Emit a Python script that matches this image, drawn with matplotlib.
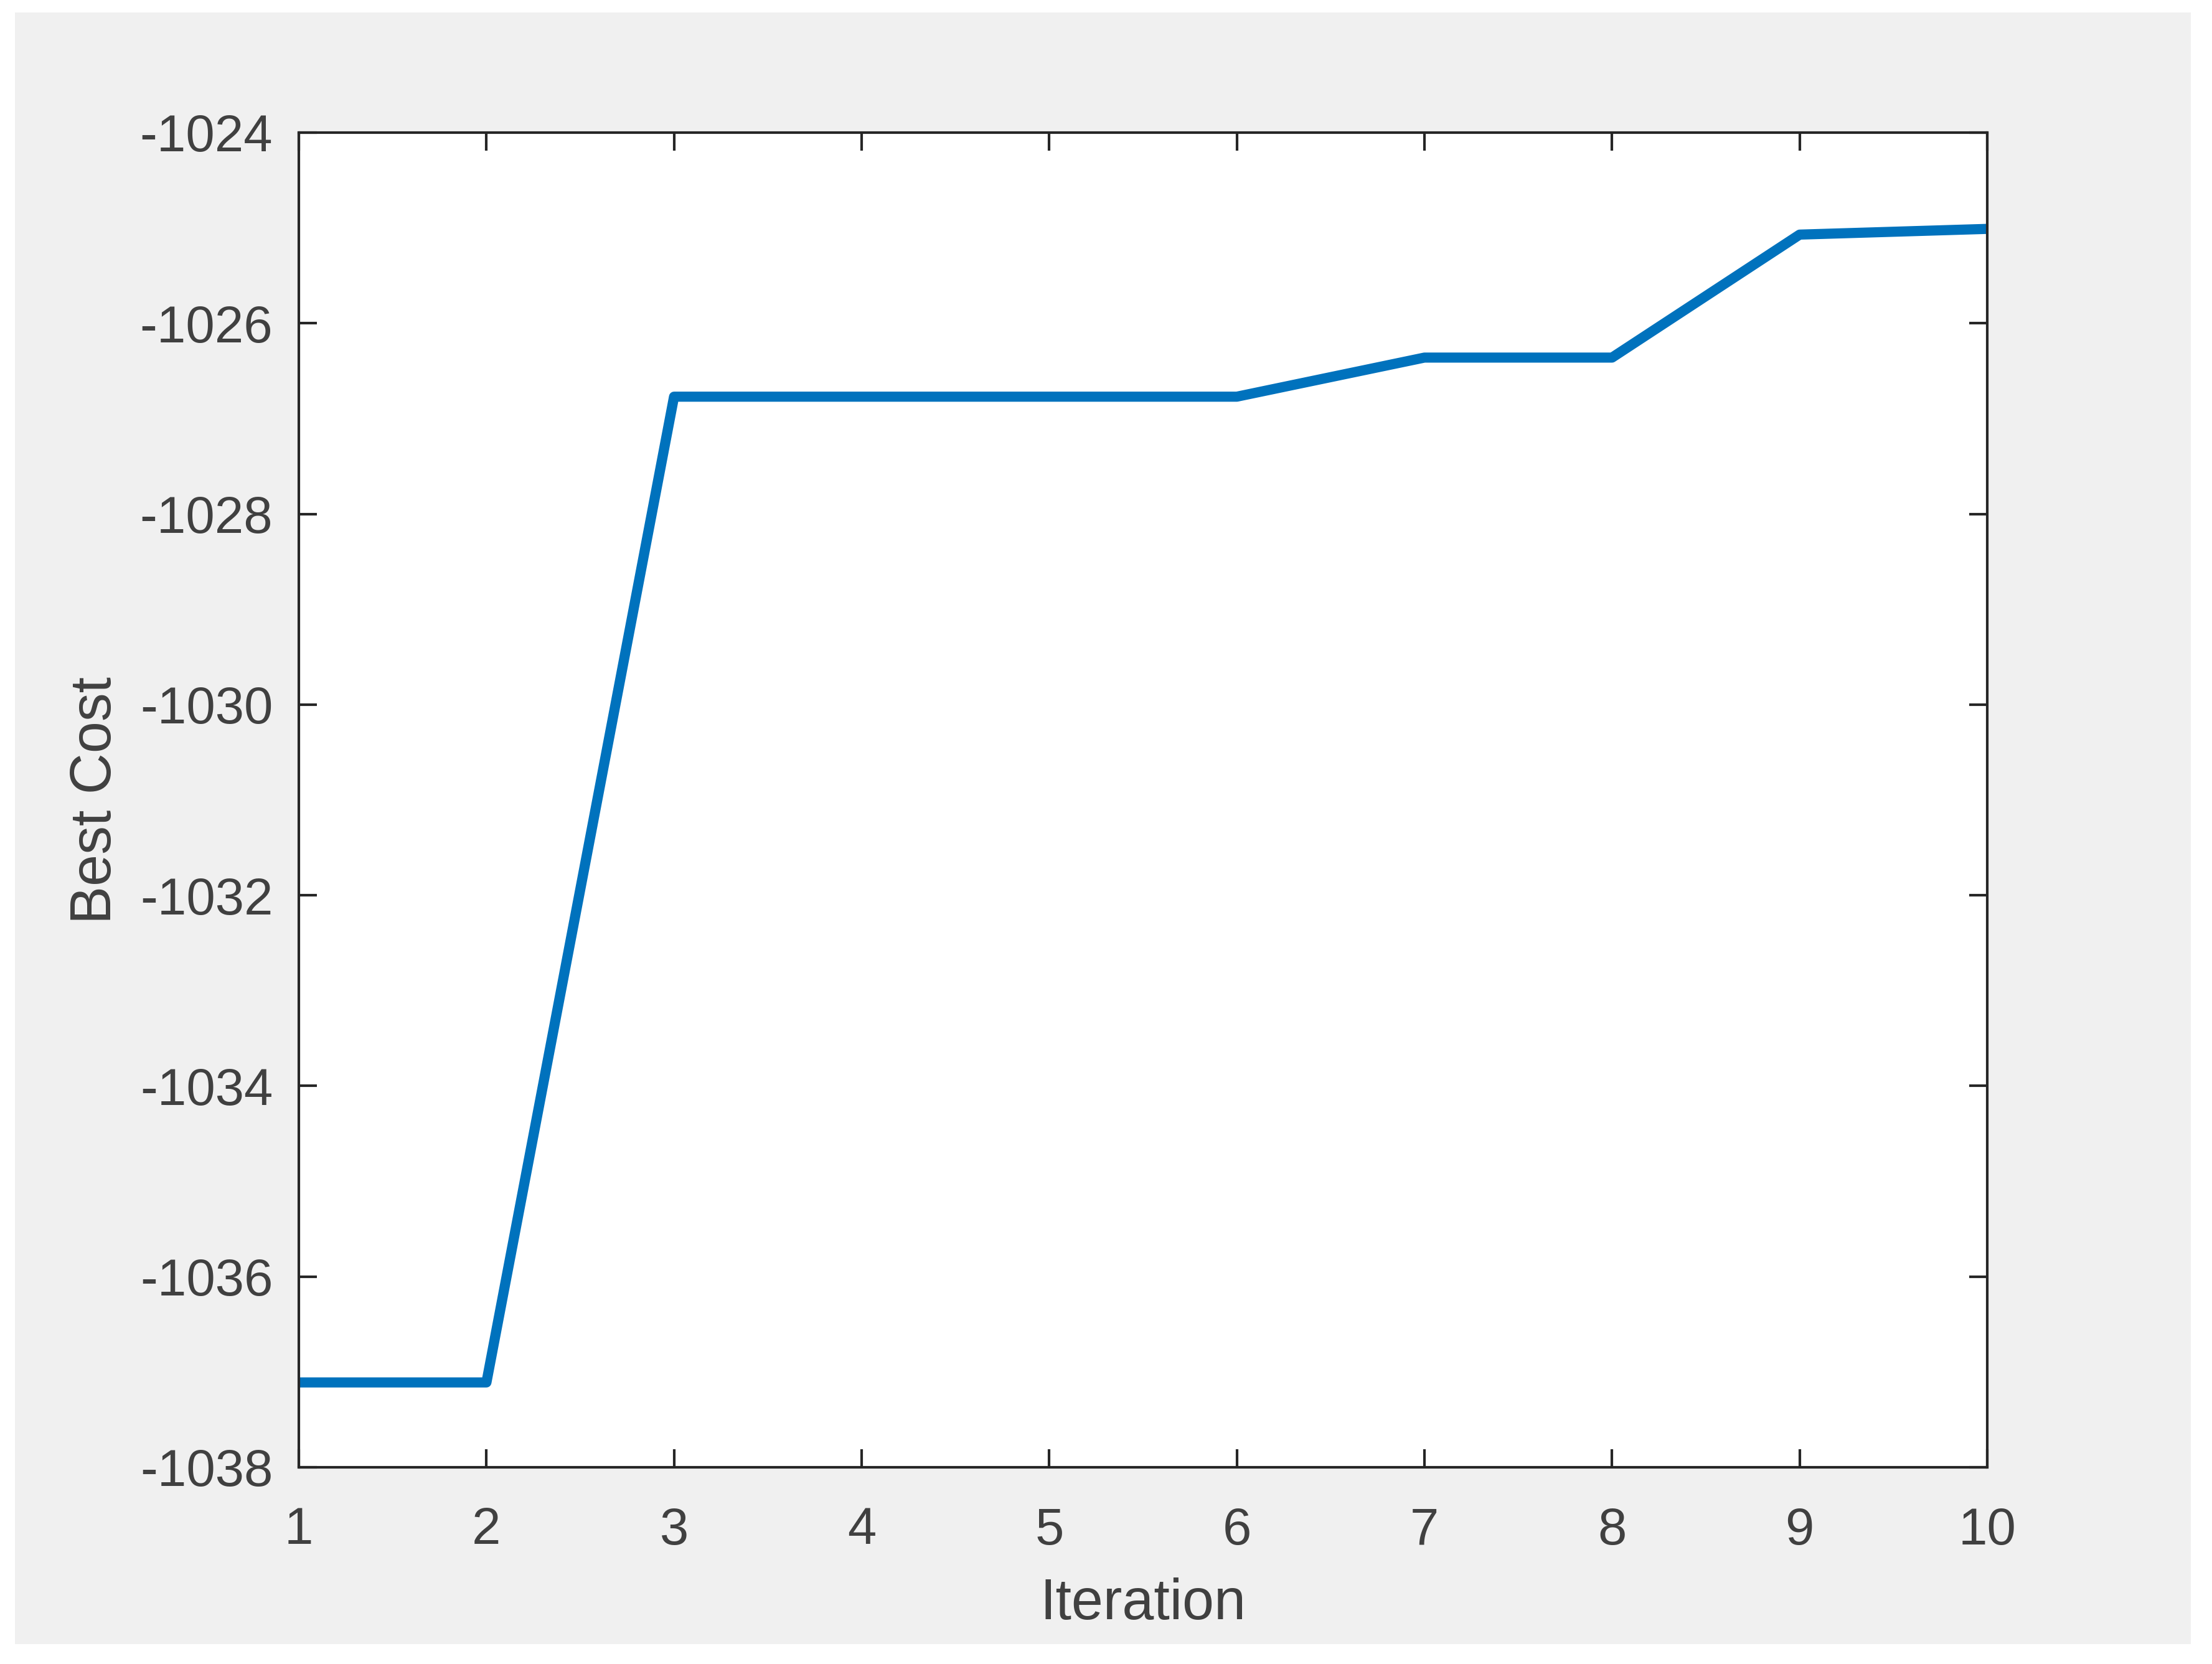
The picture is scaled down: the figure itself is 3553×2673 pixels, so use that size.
import matplotlib
matplotlib.use("Agg")
import matplotlib.pyplot as plt
from matplotlib.patches import Rectangle

# convergence curve values
iterations = [1, 2, 3, 4, 5, 6, 7, 8, 9, 10]
best_cost = [-1037.11, -1037.11, -1026.77, -1026.77, -1026.77, -1026.77,
             -1026.36, -1026.36, -1025.07, -1025.01]
x_ticks = [1, 2, 3, 4, 5, 6, 7, 8, 9, 10]
y_ticks = [-1038, -1036, -1034, -1032, -1030, -1028, -1026, -1024]

plt.rcParams['font.family'] = ['Liberation Sans', 'DejaVu Sans']
plt.rcParams['axes.unicode_minus'] = False

W, H = 3553, 2673
fig = plt.figure(figsize=(W / 300, H / 300), dpi=300, facecolor='white')

# matlab style grey figure background with thin white margin
fig.patches.append(Rectangle((24 / W, (H - 2641) / H), (3519 - 24) / W, (2641 - 20) / H,
                             transform=fig.transFigure, facecolor='#f0f0f0',
                             edgecolor='none', zorder=-10))

ax = fig.add_axes([480 / W, (H - 2357) / H, 2712 / W, 2144 / H])
ax.set_facecolor('white')

ax.plot(iterations, best_cost, color='#0072BD', linewidth=3.9,
        solid_capstyle='butt', solid_joinstyle='round')

ax.set_xlim(1, 10)
ax.set_ylim(-1038, -1024)
ax.set_xticks(x_ticks)
ax.set_yticks(y_ticks)

for s in ax.spines.values():
    s.set_linewidth(1.0)
    s.set_color('#262626')

ax.tick_params(direction='in', top=True, right=True, length=7, width=1.0,
               color='#262626', labelcolor='#404040', labelsize=20)
ax.tick_params(axis='x', pad=15)
ax.tick_params(axis='y', pad=10)

ax.set_xlabel('Iteration', fontsize=22, color='#404040')
ax.set_ylabel('Best Cost', fontsize=22, color='#404040')
ax.xaxis.set_label_coords(0.5, -0.0826)
ax.yaxis.set_label_coords(-0.1043, 0.5)

fig.savefig('out.png', dpi=300, facecolor='white')
